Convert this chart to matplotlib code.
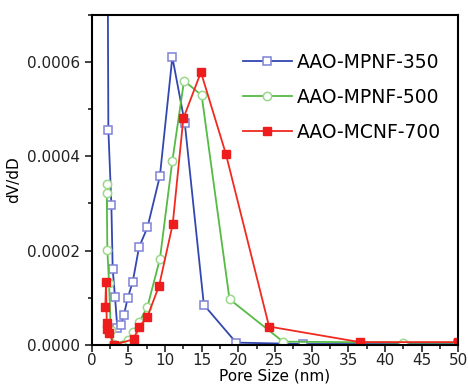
import matplotlib.pyplot as plt
from matplotlib.ticker import MultipleLocator, FormatStrFormatter

# pore size (nm) and dV/dD for each sample
x_350 = [2.1, 2.27, 2.68, 2.86, 3.18, 3.5, 3.95, 4.4, 4.9, 5.6, 6.45, 7.6, 9.3, 11.0, 12.7, 15.3, 19.7, 28.8, 50]
y_350 = [0.0011, 0.000456, 0.000297, 0.000161, 0.000101, 0.000035, 0.000042, 0.000064, 0.000099,
         0.000134, 0.000207, 0.000249, 0.000358, 0.00061, 0.00047, 0.000085, 0.000005, 0.000002, 0.000002]

x_500 = [2.05, 2.05, 2.13, 2.36, 2.6, 2.95, 4.9, 5.6, 6.5, 7.6, 9.3, 11.0, 12.6, 15.0, 18.8, 26.1, 42.5, 50]
y_500 = [0.000341, 0.000322, 0.000201, 0.000131, 0.000032, 0.000002, 0.00001, 0.000027, 0.000049,
         0.000081, 0.000182, 0.00039, 0.00056, 0.000529, 0.000097, 0.000007, 0.000005, 0.000005]

x_700 = [1.85, 1.95, 2.05, 2.15, 2.4, 3.0, 5.7, 6.4, 7.6, 9.2, 11.05, 12.5, 14.9, 18.3, 24.2, 36.6, 50]
y_700 = [0.00008, 0.000134, 0.000046, 0.000034, 0.000025, 0.0, 0.000012, 0.000037, 0.00006,
         0.000126, 0.000256, 0.00048, 0.000578, 0.000405, 0.000039, 0.000006, 0.000006]

fig = plt.figure(figsize=[4.68, 3.85], dpi=100)
ax = fig.add_axes([0.196, 0.104, 0.783, 0.858])

ax.plot(x_350, y_350, color='#3347b0', lw=1.3, marker='s', ms=5.5, mfc='white',
        mec='#7f82d6', mew=1.1, label='AAO-MPNF-350')
ax.plot(x_500, y_500, color='#55bb44', lw=1.3, marker='o', ms=6, mfc='white',
        mec='#9ad88c', mew=1.1, label='AAO-MPNF-500')
ax.plot(x_700, y_700, color='#f02a20', lw=1.3, marker='s', ms=5.5, mfc='#ee1c1c',
        mec='#ee1c1c', label='AAO-MCNF-700')

ax.set_xlim(0, 50)
ax.set_ylim(0, 0.0007)
ax.xaxis.set_major_locator(MultipleLocator(5))
ax.xaxis.set_minor_locator(MultipleLocator(2.5))
ax.yaxis.set_major_locator(MultipleLocator(0.0002))
ax.yaxis.set_minor_locator(MultipleLocator(0.0001))
ax.yaxis.set_major_formatter(FormatStrFormatter('%.4f'))

for s in ax.spines.values():
    s.set_linewidth(1.5)
ax.tick_params(which='both', direction='out', width=1.2, labelsize=11, colors='#222222')
ax.tick_params(which='major', length=5)
ax.tick_params(which='minor', length=3)
ax.tick_params(axis='x', pad=1)

ax.set_xlabel('Pore Size (nm)', fontsize=11, labelpad=0)
ax.set_ylabel('dV/dD', fontsize=11, labelpad=4)

ax.legend(loc='upper right', bbox_to_anchor=(1.0, 0.935), frameon=False, fontsize=13.5,
          handlelength=2.6, labelspacing=0.85, handletextpad=0.3)

plt.savefig('out.png', dpi=100)
plt.close()
